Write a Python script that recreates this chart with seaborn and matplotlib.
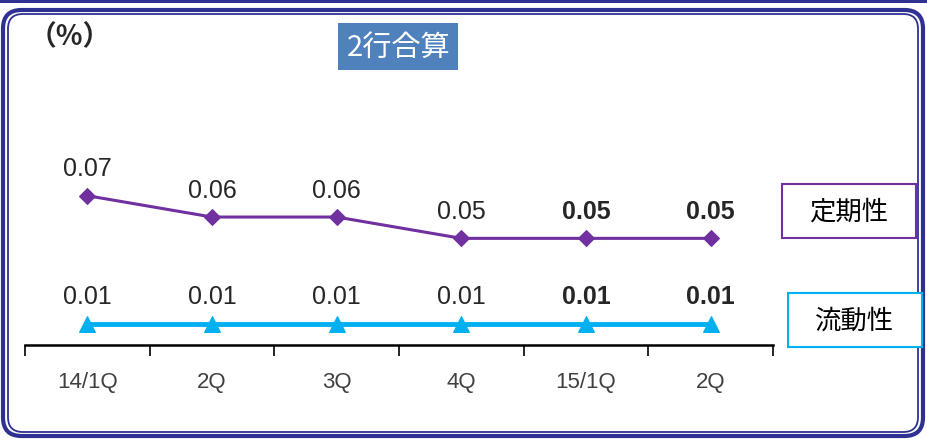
import numpy as np
import pandas as pd
import matplotlib.pyplot as plt
import seaborn as sns
from matplotlib.patches import FancyBboxPatch, Rectangle

# Data
quarters = ['14/1Q', '2Q', '3Q', '4Q', '15/1Q', '2Q']
teiki = [0.07, 0.06, 0.06, 0.05, 0.05, 0.05]
ryudo = [0.01, 0.01, 0.01, 0.01, 0.01, 0.01]
bold_from = 4  # last two labels bold

sns.set_style('white')
plt.rcParams['font.family'] = ['Liberation Sans', 'Noto Sans CJK JP', 'DejaVu Sans']
cjk = ['Noto Sans CJK JP', 'DejaVu Sans']

df = pd.DataFrame({'pos': np.arange(len(quarters)), 'teiki': teiki, 'ryudo': ryudo})

fig = plt.figure(figsize=(9.27, 4.4), dpi=100)
W, H = 927, 440

def px(x, y):
    # pixel coords (top-left origin) -> figure fraction
    return x / W, 1 - y / H

# Frame
navy = '#2E3192'
fig.patches.append(FancyBboxPatch(px(3, 436), 920 / W, 426 / H,
                                  boxstyle='round,pad=0,rounding_size=0.02',
                                  transform=fig.transFigure, fill=False,
                                  edgecolor=navy, linewidth=3, mutation_aspect=W / H))
fig.patches.append(FancyBboxPatch(px(8, 432), 910 / W, 418 / H,
                                  boxstyle='round,pad=0,rounding_size=0.016',
                                  transform=fig.transFigure, fill=False,
                                  edgecolor=navy, linewidth=1.3, mutation_aspect=W / H))
fig.patches.append(Rectangle(px(0, 3), 1, 3 / H, transform=fig.transFigure,
                             color=navy, linewidth=0))

ax = fig.add_axes([25 / W, 95 / H, 748 / W, 305 / H])
ax.set_facecolor('none')

sns.lineplot(data=df, x='pos', y='teiki', ax=ax, color='#7030A0', linewidth=2.2,
             marker='D', markersize=8, markeredgecolor='#7030A0')
sns.lineplot(data=df, x='pos', y='ryudo', ax=ax, color='#00B0F0', linewidth=3.5,
             marker='^', markersize=12, markeredgecolor='#00B0F0')

for series in [teiki, ryudo]:
    for i, v in enumerate(series):
        ax.annotate(f'{v:.2f}', (i, v), xytext=(0, 14), textcoords='offset points',
                    ha='center', va='baseline', fontsize=18, color='#262626',
                    fontweight='bold' if i >= bold_from else 'normal')

ax.set_xlim(-0.5, len(quarters) - 0.5)
ax.set_ylim(0, 0.143)
ax.set_xlabel('')
ax.set_ylabel('')
ax.set_yticks([])
ax.set_xticks(np.arange(len(quarters)))
ax.set_xticklabels(quarters, fontsize=16, color='#404040')
ax.set_xticks(np.arange(-0.5, len(quarters)), minor=True)
ax.tick_params(axis='x', which='major', bottom=False, pad=16)
ax.tick_params(axis='x', which='minor', bottom=True, direction='out', length=8,
               width=1.2, color='black')
for s in ['top', 'left', 'right']:
    ax.spines[s].set_visible(False)
ax.spines['bottom'].set_color('black')
ax.spines['bottom'].set_linewidth(1.8)

# Unit
fig.text(*px(70, 37), '（%）', fontsize=20, color='#262626', va='center', ha='center',
         family=cjk, fontweight='bold')

# Title box
fig.patches.append(Rectangle(px(338, 70), 120 / W, 47 / H, transform=fig.transFigure,
                             facecolor='#4F81BD', edgecolor='none'))
fig.text(*px(399, 48), '2行合算', fontsize=21, color='white', ha='center', va='center',
         family=cjk)

# Legend boxes
fig.patches.append(Rectangle(px(782, 238), 134 / W, 54 / H, transform=fig.transFigure,
                             facecolor='white', edgecolor='#7030A0', linewidth=1.5))
fig.text(*px(849, 212), '定期性', fontsize=19, color='black', ha='center', va='center',
         family=cjk)
fig.patches.append(Rectangle(px(788, 347), 134 / W, 54 / H, transform=fig.transFigure,
                             facecolor='white', edgecolor='#00B0F0', linewidth=1.5))
fig.text(*px(855, 321), '流動性', fontsize=19, color='black', ha='center', va='center',
         family=cjk)

plt.savefig('out.png', dpi=100)
